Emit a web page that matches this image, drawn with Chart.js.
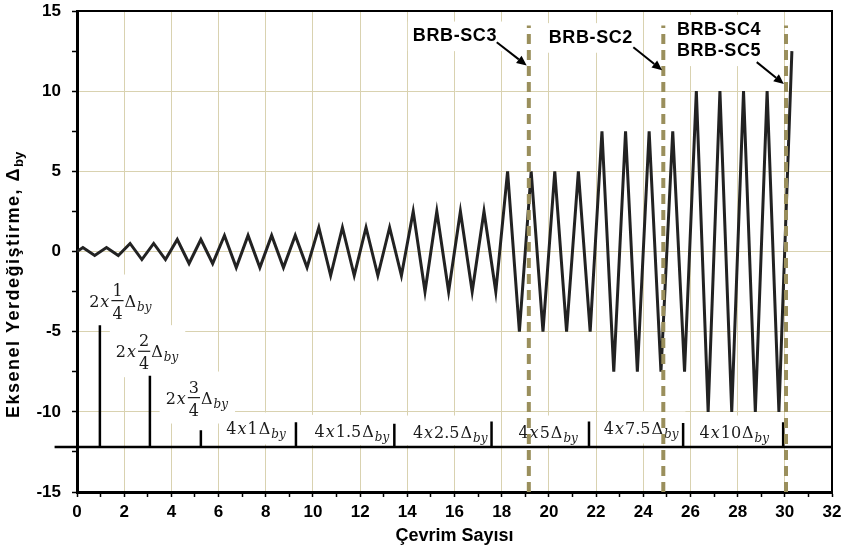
<!DOCTYPE html>
<html>
<head>
<meta charset="utf-8">
<script src="https://cdn.jsdelivr.net/npm/chart.js@4.4.1/dist/chart.umd.min.js"></script>
<style>
  html, body { margin: 0; padding: 0; background: #fff; }
</style>
</head>
<body>
<canvas id="protocol" width="844" height="548"></canvas>
<script>
// loading history: cycle position of each peak / trough and its displacement (x Δby)
const cycleX = [0,
  0.25, 0.75, 1.25, 1.75, 2.25, 2.75, 3.25, 3.75, 4.25, 4.75,
  5.25, 5.75, 6.25, 6.75, 7.25, 7.75, 8.25, 8.75, 9.25, 9.75,
  10.25, 10.75, 11.25, 11.75, 12.25, 12.75, 13.25, 13.75, 14.25, 14.75,
  15.25, 15.75, 16.25, 16.75, 17.25, 17.75, 18.25, 18.75, 19.25, 19.75,
  20.25, 20.75, 21.25, 21.75, 22.25, 22.75, 23.25, 23.75, 24.25, 24.75,
  25.25, 25.75, 26.25, 26.75, 27.25, 27.75, 28.25, 28.75, 29.25, 29.75,
  30.3];
const displacement = [0,
  0.25, -0.25, 0.25, -0.25, 0.5, -0.5, 0.5, -0.5, 0.75, -0.75,
  0.75, -0.75, 1, -1, 1, -1, 1, -1, 1, -1,
  1.5, -1.5, 1.5, -1.5, 1.5, -1.5, 1.5, -1.5, 2.5, -2.5,
  2.5, -2.5, 2.5, -2.5, 2.5, -2.5, 5, -5, 5, -5,
  5, -5, 5, -5, 7.5, -7.5, 7.5, -7.5, 7.5, -7.5,
  7.5, -7.5, 10, -10, 10, -10, 10, -10, 10, -10,
  12.5];

// stage separators standing on the base line
const baseLevel = -12.2;
const baseStart = -0.95;
const baseEnd = 32;
const stageX = [0.97, 3.09, 5.25, 9.28, 13.45, 17.57, 21.7, 25.69, 29.93];
const stageTop = [-4.6, -7.75, -11.15, -10.65, -10.75, -10.6, -10.6, -10.7, -10.65];

// stage labels: repeats x amplitude Δby
const stageRepeats = [2, 2, 2, 4, 4, 4, 4, 4, 4];
const stageAmplitude = ['1/4', '2/4', '3/4', '1', '1.5', '2.5', '5', '7.5', '10'];

// specimens and the cycle where they stopped
const specimenNames = [['BRB-SC3'], ['BRB-SC2'], ['BRB-SC4', 'BRB-SC5']];
const failureCycle = [19.15, 24.85, 30.05];
const failureTop = 14.1;

// annotation placement (data units)
const stageLabelPos = [[1.86, -3.12], [2.99, -6.28], [5.1, -9.17], [7.61, -11.1], [11.67, -11.25],
  [15.84, -11.29], [19.99, -11.29], [23.93, -11.04], [27.88, -11.29]];
const specimenLabelPos = [[16.02, 13.42], [21.78, 13.32], [27.21, 13.16]];
const arrowPos = [[17.79, 13.05, 19.06, 11.6], [23.58, 12.74, 24.8, 11.3], [28.81, 11.81, 29.96, 10.45]];

const gridTan = '#d9d2b0';
const dashOlive = '#9a8f5c';
const mathFont = '"DejaVu Serif"';

function mathSegments(i) {
  const segs = [
    { t: String(stageRepeats[i]), f: '16px ' + mathFont },
    { t: 'x', f: 'italic 16px ' + mathFont }
  ];
  const a = stageAmplitude[i];
  if (a.includes('/')) {
    segs.push({ frac: a.split('/'), f: '16px ' + mathFont });
  } else {
    segs.push({ t: a, f: '16px ' + mathFont });
  }
  segs.push({ t: 'Δ', f: '16px ' + mathFont });
  segs.push({ t: 'by', f: 'italic 12px ' + mathFont, dy: 4 });
  return segs;
}

const annotations = {
  id: 'annotations',
  beforeDatasetsDraw(chart) {
    const { ctx, scales: { x, y } } = chart;
    ctx.save();
    // stage labels
    stageRepeats.forEach((r, i) => {
      const cx = x.getPixelForValue(stageLabelPos[i][0]);
      const cy = y.getPixelForValue(stageLabelPos[i][1]);
      const segs = mathSegments(i);
      let total = 0;
      segs.forEach(s => {
        ctx.font = s.f;
        s.w = s.frac ? Math.max(ctx.measureText(s.frac[0]).width, ctx.measureText(s.frac[1]).width) + 4
                     : ctx.measureText(s.t).width + 1;
        total += s.w;
      });
      const hasFrac = segs.some(s => s.frac);
      ctx.fillStyle = '#fff';
      const top = cy - (hasFrac ? 27 : 17);
      const bot = Math.min(cy + (hasFrac ? 25 : 15), y.getPixelForValue(baseLevel) - 2);
      ctx.fillRect(cx - total / 2 - 6, top, total + 12, bot - top);
      let px = cx - total / 2;
      const base = cy + 5;
      ctx.fillStyle = '#1a1a1a';
      ctx.textBaseline = 'alphabetic';
      segs.forEach(s => {
        ctx.font = s.f;
        if (s.frac) {
          ctx.textAlign = 'center';
          const mid = px + s.w / 2;
          ctx.fillText(s.frac[0], mid, cy - 6);
          ctx.fillText(s.frac[1], mid, cy + 17);
          ctx.fillRect(px + 1, cy - 1.5, s.w - 2, 1.2);
        } else {
          ctx.textAlign = 'left';
          ctx.fillText(s.t, px, base + (s.dy || 0));
        }
        px += s.w;
      });
    });
    // specimen labels
    ctx.font = 'bold 18px "Liberation Sans"';
    ctx.letterSpacing = '0.6px';
    ctx.textAlign = 'center';
    ctx.textBaseline = 'middle';
    specimenNames.forEach((names, i) => {
      const cx = x.getPixelForValue(specimenLabelPos[i][0]);
      const cy = y.getPixelForValue(specimenLabelPos[i][1]);
      const lh = 21.6;
      const w = Math.max(...names.map(n => ctx.measureText(n).width));
      const h = lh * names.length;
      ctx.fillStyle = '#fff';
      ctx.fillRect(cx - w / 2 - 5, cy - h / 2 - 4, w + 10, h + 8);
      ctx.fillStyle = '#000';
      names.forEach((n, k) => {
        ctx.fillText(n, cx, cy - h / 2 + lh * (k + 0.5));
      });
    });
    ctx.restore();
  },
  afterDatasetsDraw(chart) {
    const { ctx, chartArea: a, scales: { x, y } } = chart;
    ctx.save();
    // arrows
    arrowPos.forEach(p => {
      const x1 = x.getPixelForValue(p[0]), y1 = y.getPixelForValue(p[1]);
      const x2 = x.getPixelForValue(p[2]), y2 = y.getPixelForValue(p[3]);
      const ang = Math.atan2(y2 - y1, x2 - x1);
      const hl = 10, hw = 4.5;
      const bx = x2 - hl * Math.cos(ang), by = y2 - hl * Math.sin(ang);
      ctx.strokeStyle = '#000';
      ctx.lineWidth = 2;
      ctx.beginPath();
      ctx.moveTo(x1, y1);
      ctx.lineTo(bx, by);
      ctx.stroke();
      ctx.fillStyle = '#000';
      ctx.beginPath();
      ctx.moveTo(x2, y2);
      ctx.lineTo(bx + hw * Math.sin(ang), by - hw * Math.cos(ang));
      ctx.lineTo(bx - hw * Math.sin(ang), by + hw * Math.cos(ang));
      ctx.closePath();
      ctx.fill();
    });
    // top / right frame
    ctx.strokeStyle = '#000';
    ctx.lineWidth = 2;
    ctx.beginPath();
    ctx.moveTo(a.left, a.top);
    ctx.lineTo(a.right, a.top);
    ctx.lineTo(a.right, a.bottom);
    ctx.stroke();
    ctx.restore();
  },
  afterDraw(chart) {
    const { ctx, chartArea: a } = chart;
    ctx.save();
    ctx.translate(14, (a.top + a.bottom) / 2 + 32);
    ctx.rotate(-Math.PI / 2);
    ctx.fillStyle = '#000';
    ctx.textBaseline = 'middle';
    ctx.letterSpacing = '1.5px';
    const main = 'Eksenel Yerdeğiştirme, Δ';
    ctx.font = 'bold 18px "Liberation Sans"';
    const w1 = ctx.measureText(main).width;
    ctx.font = 'bold 13px "Liberation Sans"';
    const w2 = ctx.measureText('by').width;
    const sx = -(w1 + w2) / 2;
    ctx.font = 'bold 18px "Liberation Sans"';
    ctx.textAlign = 'left';
    ctx.fillText(main, sx, 0);
    ctx.font = 'bold 13px "Liberation Sans"';
    ctx.letterSpacing = '0px';
    ctx.fillText('by', sx + w1, 5);
    ctx.restore();
  }
};

const zigzag = cycleX.map((c, i) => ({ x: c, y: displacement[i] }));
const separators = [];
stageX.forEach((s, i) => {
  separators.push({ x: s, y: baseLevel }, { x: s, y: stageTop[i] }, { x: s, y: null });
});
const failureSets = failureCycle.map(c => ({
  data: [{ x: c, y: -15 }, { x: c, y: failureTop }],
  borderColor: dashOlive,
  borderWidth: 4,
  borderDash: [10, 6],
  pointRadius: 0,
  showLine: true,
  order: 0
}));

const axisFont = { family: 'Liberation Sans', weight: 'bold', size: 17 };
const titleFont = { family: 'Liberation Sans', weight: 'bold', size: 18 };

new Chart(document.getElementById('protocol'), {
  type: 'scatter',
  data: {
    datasets: [
      ...failureSets,
      {
        data: zigzag,
        borderColor: '#222',
        borderWidth: 3,
        pointRadius: 0,
        showLine: true,
        tension: 0,
        order: 1
      },
      {
        data: separators,
        borderColor: '#000',
        borderWidth: 2.5,
        pointRadius: 0,
        showLine: true,
        spanGaps: false,
        order: 2
      },
      {
        data: [{ x: baseStart, y: baseLevel }, { x: baseEnd, y: baseLevel }],
        borderColor: '#000',
        borderWidth: 2.5,
        pointRadius: 0,
        showLine: true,
        clip: false,
        order: 3
      }
    ]
  },
  options: {
    responsive: false,
    animation: false,
    devicePixelRatio: 1,
    layout: { padding: { top: 11, right: 12, left: 0, bottom: 0 } },
    plugins: { legend: { display: false }, tooltip: { enabled: false } },
    scales: {
      x: {
        type: 'linear',
        min: 0,
        max: 32,
        border: { color: '#000', width: 3 },
        grid: {
          color: c => (c.tick && c.tick.value % 2 === 0 && c.tick.value > 0 && c.tick.value < 32) ? gridTan : 'rgba(0,0,0,0)',
          tickColor: '#000',
          tickLength: 5,
          tickWidth: 1.5
        },
        ticks: {
          stepSize: 1,
          autoSkip: false,
          maxRotation: 0,
          padding: 5,
          color: '#000',
          font: axisFont,
          callback: v => (v % 2 === 0 ? v : '')
        },
        title: {
          display: true,
          text: 'Çevrim Sayısı',
          color: '#000',
          font: titleFont,
          padding: { top: 0, bottom: 1 }
        },
        afterFit: s => {
          s.height = 56;
          s.paddingLeft = 0;
          s.paddingRight = 0;
        }
      },
      y: {
        type: 'linear',
        min: -15,
        max: 15,
        border: { color: '#000', width: 3 },
        grid: {
          color: c => (c.tick && c.tick.value % 5 === 0 && Math.abs(c.tick.value) < 15) ? gridTan : 'rgba(0,0,0,0)',
          tickColor: '#000',
          tickLength: 5,
          tickWidth: 1.5
        },
        ticks: {
          stepSize: 2.5,
          autoSkip: false,
          padding: 11,
          color: '#000',
          font: axisFont,
          callback: v => (v % 5 === 0 ? v : '')
        },
        afterFit: s => {
          s.width = 77;
          s.paddingTop = 0;
          s.paddingBottom = 0;
        }
      }
    }
  },
  plugins: [annotations]
});
</script>
</body>
</html>
